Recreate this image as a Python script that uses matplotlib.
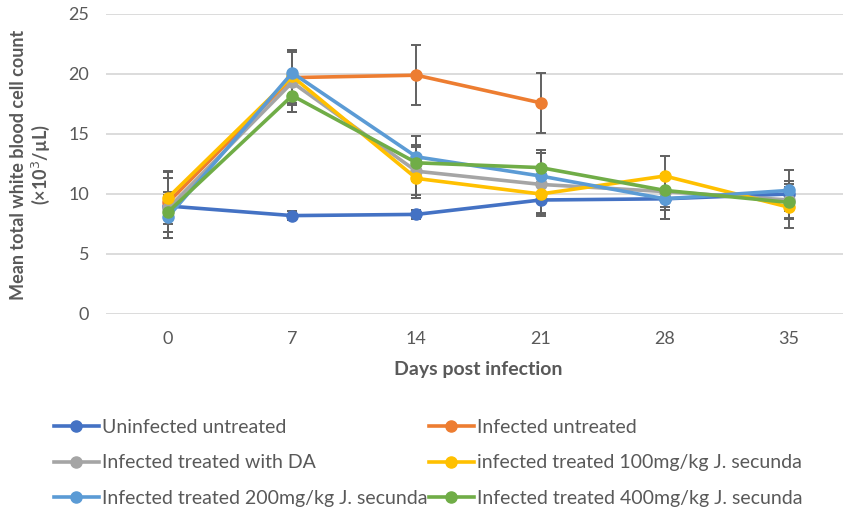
import matplotlib.pyplot as plt

days = [0, 7, 14, 21, 28, 35]

labels = ['Uninfected untreated', 'Infected untreated', 'Infected treated with DA',
          'infected treated 100mg/kg J. secunda', 'Infected treated 200mg/kg J. secunda',
          'Infected treated 400mg/kg J. secunda']
colors = ['#4472C4', '#ED7D31', '#A5A5A5', '#FFC000', '#5B9BD5', '#70AD47']

uninfected = [9.0, 8.2, 8.3, 9.5, 9.6, 10.0]
uninfected_err = [0.5, 0.4, 0.4, 1.2, 1.7, 0.8]
infected = [9.3, 19.7, 19.9, 17.6]
infected_err = [2.5, 2.3, 2.5, 2.5]
da = [8.8, 19.3, 11.9, 10.8, 10.2, 9.5]
da_err = [2.5, 2.5, 2.0, 2.6, 1.5, 1.6]
dose100 = [9.7, 19.8, 11.3, 10.0, 11.5, 8.9]
dose100_err = [2.2, 2.2, 1.6, 1.6, 1.7, 1.7]
dose200 = [8.1, 20.1, 13.1, 11.5, 9.6, 10.3]
dose200_err = [1.8, 1.9, 1.7, 2.2, 1.7, 1.7]
dose400 = [8.5, 18.2, 12.6, 12.2, 10.3, 9.3]
dose400_err = [1.7, 1.4, 1.5, 1.2, 1.4, 1.3]

series = [uninfected, infected, da, dose100, dose200, dose400]
errors = [uninfected_err, infected_err, da_err, dose100_err, dose200_err, dose400_err]

plt.rcParams['font.family'] = ['Lato', 'DejaVu Sans']
textcol = '#595959'

fig = plt.figure(figsize=(8.43, 5.12), dpi=100)
ax = fig.add_axes([106 / 843, 198 / 512, 1 - 106 / 843, 300 / 512])

handles = []
for vals, err, col, lab in zip(series, errors, colors, labels):
    x = days[:len(vals)]
    ax.errorbar(x, vals, yerr=err, fmt='none', ecolor='#616161', elinewidth=1.4,
                capsize=3.5, capthick=1.4, zorder=3)
    h, = ax.plot(x, vals, color=col, lw=2.6, marker='o', markersize=8, label=lab, zorder=4)
    handles.append(h)

ax.set_xlim(-3.5, 38.05)
ax.set_ylim(0, 25)
ax.set_xticks(days)
ax.set_yticks([0, 5, 10, 15, 20, 25])
ax.grid(axis='y', color='#D9D9D9', lw=1.3)
ax.set_axisbelow(True)
for s in ax.spines.values():
    s.set_visible(False)
ax.tick_params(length=0, labelsize=13, colors=textcol)
ax.tick_params(axis='y', pad=12)
ax.tick_params(axis='x', pad=12)

fig.text(31 / 843, 1 - 165 / 512, 'Mean total white blood cell count\n(×10$^3$/µL)',
         rotation=90, ha='center', va='center', fontsize=13, fontweight='bold',
         color=textcol, linespacing=1.2)
fig.text(478 / 843, 1 - 370 / 512, 'Days post infection', ha='center', va='center',
         fontsize=14, fontweight='bold', color=textcol)

# legend laid out row by row, like the original
order = [0, 2, 4, 1, 3, 5]
leg = fig.legend([handles[i] for i in order], [labels[i] for i in order],
                 loc='upper left', bbox_to_anchor=(54 / 843, 1 - 419 / 512), ncol=2,
                 frameon=False, fontsize=14, handlelength=2.3, handletextpad=0.15,
                 columnspacing=0.1, labelspacing=0.95, borderpad=0, borderaxespad=0)
for t in leg.get_texts():
    t.set_color(textcol)

fig.savefig('out.png', dpi=100)
